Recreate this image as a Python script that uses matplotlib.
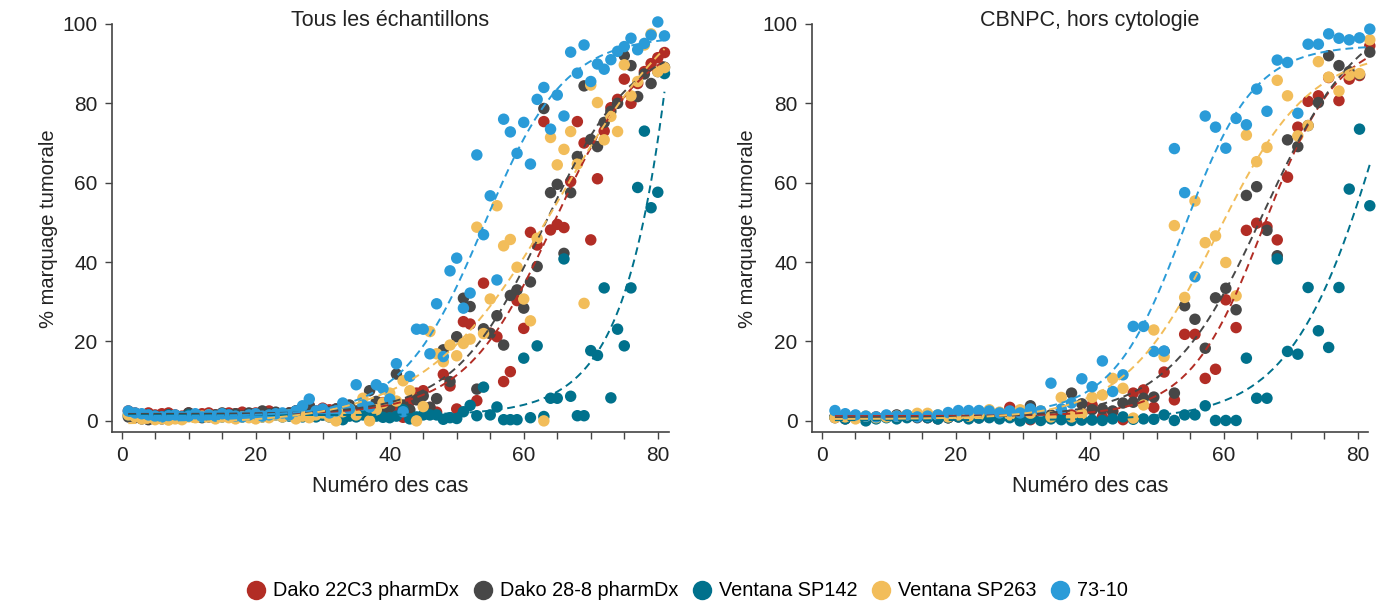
import numpy as np
import matplotlib
matplotlib.use("Agg")
import matplotlib.pyplot as plt
from matplotlib.ticker import MultipleLocator
from matplotlib.lines import Line2D

plt.rcParams['font.family'] = ['Liberation Sans', 'DejaVu Sans']

series_names = ["Dako 22C3 pharmDx", "Dako 28-8 pharmDx", "Ventana SP142", "Ventana SP263", "73-10"]
colors = ["#b22d25", "#474747", "#00718c", "#f2bd5a", "#2a9bd8"]
titles = ["Tous les échantillons", "CBNPC, hors cytologie"]

# --- panel 1 : tous les échantillons (81 cas) ---
cases_all = np.arange(1, 82)

red_all = [2.5, 2.0, 1.5, 2.0, 1.5, 1.8, 2.0, 1.5, 1.2, 2.0,
           1.5, 1.8, 2.0, 1.5, 1.2, 2.0, 1.8, 2.2, 1.5, 2.0,
           1.8, 2.5, 2.0, 1.5, 2.0, 2.5, 3.2, 3.8, 2.5, 3.2,
           2.8, 3.0, 2.5, 3.5, 2.0, 2.8, 3.0, 4.0, 4.6, 3.0,
           2.5, 0.9, 4.9, 7.0, 7.6, 3.4, 2.2, 11.7, 8.8, 3.0,
           25.0, 24.4, 5.1, 34.7, 22.1, 21.2, 9.9, 12.4, 30.3, 23.3,
           47.5, 44.3, 75.4, 48.1, 49.5, 48.7, 60.3, 75.4, 70.0, 45.6,
           61.0, 73.0, 78.9, 81.0, 86.1, 80.0, 85.0, 88.0, 90.0, 91.5, 92.8]
black_all = [1.0, 0.8, 0.5, 0.3, 1.2, 0.5, 1.5, 0.8, 1.0, 2.0,
             1.5, 0.8, 1.0, 1.5, 2.0, 1.0, 1.8, 1.2, 2.0, 1.5,
             2.5, 1.8, 2.2, 1.5, 2.0, 2.5, 3.0, 3.8, 2.0, 1.5,
             2.3, 3.0, 3.5, 4.0, 2.5, 2.8, 7.6, 4.9, 2.8, 3.5,
             11.8, 4.0, 2.8, 5.3, 6.3, 3.4, 5.6, 17.9, 9.9, 21.2,
             30.9, 28.8, 8.0, 23.2, 22.0, 26.5, 19.1, 31.6, 33.0, 28.4,
             35.0, 38.9, 78.7, 57.5, 59.6, 42.2, 57.5, 66.6, 84.4, 70.9,
             69.1, 75.2, 78.0, 80.0, 92.0, 89.5, 81.7, 87.4, 85.0, 88.0, 89.1]
teal_all = [1.5, 1.2, 1.0, 1.5, 1.2, 1.0, 1.5, 1.2, 1.0, 1.5,
            1.2, 1.0, 1.5, 1.2, 1.0, 1.5, 1.2, 1.0, 1.2, 1.5,
            1.0, 1.2, 1.5, 1.0, 1.2, 1.5, 1.0, 1.2, 1.0, 1.5,
            1.0, 0.8, 0.3, 1.2, 1.0, 1.5, 0.8, 1.2, 0.9, 0.8,
            1.2, 2.8, 0.5, 1.0, 1.5, 1.5, 1.5, 0.4, 0.8, 0.6,
            2.3, 3.9, 1.3, 8.5, 1.5, 3.5, 0.3, 0.3, 0.3, 15.8,
            0.8, 18.9, 1.1, 5.7, 5.7, 40.8, 6.2, 1.3, 1.3, 17.7,
            16.5, 33.5, 5.8, 23.1, 18.9, 33.5, 58.8, 73.0, 53.7, 57.6, 87.5]
yellow_all = [1.5, 1.0, 0.5, 0.8, 0.3, 0.5, 0.2, 0.5, 0.3, 1.0,
              0.8, 1.2, 1.5, 0.5, 1.0, 0.8, 0.5, 1.0, 0.8, 0.5,
              1.0, 0.8, 1.5, 1.0, 1.5, 0.5, 1.2, 0.8, 1.5, 2.0,
              1.0, 0.0, 2.3, 3.0, 1.5, 5.7, 0.0, 2.8, 4.5, 7.0,
              5.0, 10.1, 7.6, 0.0, 3.6, 22.5, 16.9, 14.9, 19.1, 16.4,
              19.5, 20.6, 48.8, 22.0, 30.7, 54.2, 44.1, 45.7, 38.7, 30.7,
              25.2, 46.0, 0.0, 71.4, 64.5, 68.4, 72.9, 64.7, 29.6, 84.6,
              80.2, 70.8, 76.7, 72.9, 89.7, 81.9, 85.5, 94.7, 97.5, 88.0, 89.0]
blue_all = [2.5, 2.0, 1.8, 1.5, 1.2, 1.0, 1.3, 1.5, 1.0, 1.2,
            1.8, 1.0, 1.5, 1.2, 1.8, 1.5, 1.2, 1.0, 1.5, 1.8,
            1.2, 1.5, 1.8, 2.0, 1.5, 2.5, 3.8, 5.5, 2.5, 3.0,
            2.0, 2.5, 4.5, 3.0, 9.1, 4.0, 3.5, 9.1, 8.1, 5.5,
            14.4, 2.3, 11.2, 23.1, 23.1, 16.9, 29.5, 16.2, 37.8, 41.0,
            28.4, 32.2, 67.0, 46.9, 56.7, 35.5, 76.0, 72.8, 67.4, 75.2,
            64.7, 81.0, 84.0, 73.5, 82.1, 76.8, 92.9, 87.6, 94.7, 85.5,
            89.9, 88.6, 91.0, 93.1, 94.3, 96.4, 93.5, 95.1, 97.2, 100.5, 97.0]

# --- panel 2 : CBNPC hors cytologie (53 cas, rang ramené sur 2-82) ---
cases_nsclc = np.linspace(2.0, 81.8, 53)

red_nsclc = [1.0, 1.5, 1.2, 0.8, 1.0, 1.2, 0.8, 1.0, 1.2, 0.8,
             1.0, 0.8, 1.2, 1.0, 0.8, 1.0, 1.2, 3.4, 1.0, 0.3,
             1.5, 1.0, 1.0, 1.5, 2.0, 4.0, 1.0, 2.3, 0.3, 7.0,
             7.8, 3.4, 12.3, 5.3, 21.8, 21.8, 10.7, 13.0, 30.5, 23.5,
             48.0, 49.8, 48.9, 45.6, 61.4, 74.0, 80.5, 81.9, 86.5, 80.7,
             86.1, 87.0, 94.5]
black_nsclc = [0.8, 0.5, 1.0, 0.5, 0.8, 1.2, 1.5, 1.0, 0.8, 1.0,
               0.5, 0.8, 1.0, 0.8, 1.0, 1.2, 1.0, 1.5, 2.0, 3.8,
               2.0, 1.5, 2.2, 7.0, 4.3, 2.8, 3.0, 2.5, 4.5, 4.7,
               5.7, 6.0, 17.5, 7.0, 29.0, 25.6, 18.3, 31.0, 33.4, 28.0,
               56.8, 59.0, 48.0, 41.6, 70.8, 69.1, 74.4, 80.2, 92.0, 89.5,
               88.0, 87.3, 92.9]
teal_nsclc = [1.0, 0.5, 0.8, 0.0, 0.5, 0.8, 0.5, 0.8, 1.0, 0.8,
              0.5, 0.8, 1.0, 0.5, 0.7, 0.8, 0.5, 0.8, 0.0, 0.5,
              0.1, 0.5, 0.3, 0.1, 0.2, 0.2, 0.1, 0.5, 1.0, 0.4,
              0.5, 0.4, 1.5, 0.1, 1.5, 1.5, 3.8, 0.1, 0.1, 0.1,
              15.8, 5.7, 5.7, 40.8, 17.5, 16.8, 33.6, 22.7, 18.5, 33.6,
              58.4, 73.5, 54.2]
yellow_nsclc = [0.8, 1.0, 0.5, 1.2, 0.8, 1.0, 1.2, 1.5, 1.9, 1.9,
                1.5, 1.0, 1.5, 1.2, 1.5, 2.8, 2.2, 1.5, 2.8, 1.9,
                2.5, 1.0, 5.9, 1.0, 1.8, 5.9, 6.5, 10.7, 8.2, 0.7,
                4.0, 22.9, 16.2, 49.2, 31.1, 55.4, 44.9, 46.6, 39.9, 31.5,
                72.0, 65.3, 68.9, 85.8, 81.9, 71.8, 74.4, 90.5, 86.6, 83.1,
                87.1, 87.5, 96.0]
blue_nsclc = [2.6, 1.8, 1.5, 1.2, 1.0, 1.5, 1.2, 1.5, 1.0, 1.2,
              1.5, 2.1, 2.6, 2.6, 2.6, 2.5, 2.0, 2.5, 2.0, 3.0,
              2.5, 9.5, 3.0, 4.5, 10.6, 8.6, 15.1, 7.4, 11.6, 23.8,
              23.8, 17.5, 17.6, 68.6, 57.5, 36.3, 76.8, 74.0, 68.7, 76.2,
              74.6, 83.6, 78.0, 90.9, 90.3, 77.5, 94.9, 94.9, 97.5, 96.4,
              96.0, 96.5, 98.7]

panels = [
    (cases_all, [red_all, black_all, teal_all, yellow_all, blue_all]),
    (cases_nsclc, [red_nsclc, black_nsclc, teal_nsclc, yellow_nsclc, blue_nsclc]),
]


def logistic_fit(x, y):
    # sigmoïde à 4 paramètres : recherche sur (milieu, pente), bas/amplitude par moindres carrés
    x = np.asarray(x, float)
    y = np.asarray(y, float)
    M, K = np.meshgrid(np.arange(35, 120, 0.5), np.arange(0.03, 0.40, 0.005))
    M, K = M.ravel(), K.ravel()
    S = 1.0 / (1.0 + np.exp(-K[:, None] * (x[None, :] - M[:, None])))
    sm = S.mean(axis=1, keepdims=True)
    ym = y.mean()
    A = ((S - sm) * (y - ym)).sum(axis=1) / ((S - sm) ** 2).sum(axis=1)
    b = ym - A * sm[:, 0]
    sse = ((y[None, :] - b[:, None] - A[:, None] * S) ** 2).sum(axis=1)
    i = np.argmin(sse)
    m, k, a, c = M[i], K[i], A[i], b[i]
    return lambda t: c + a / (1.0 + np.exp(-k * (t - m)))


fig = plt.figure(figsize=(13.91, 6.03), dpi=100)
ax_left = fig.add_axes([0.0802, 0.2836, 0.4004, 0.703])
ax_right = fig.add_axes([0.5834, 0.2836, 0.4004, 0.703])

ymin, ymax = -2.8, 104
axis_col = "#444444"
txt_col = "#222222"

for ax, (x, data), title in zip([ax_left, ax_right], panels, titles):
    for vals, c in zip(data, colors):
        ax.scatter(x, vals, s=68, color=c, edgecolors='none', zorder=3, clip_on=False)
    for vals, c in zip(data, colors):
        f = logistic_fit(x, vals)
        xf = np.linspace(x.min(), x.max(), 200)
        ax.plot(xf, f(xf), color=c, lw=1.4,
                linestyle=(0, (4, 2.5)), zorder=4, clip_on=False)

    ax.set_xlim(-1.5, 81.6)
    ax.set_ylim(ymin, ymax)
    ax.xaxis.set_major_locator(MultipleLocator(20))
    ax.xaxis.set_minor_locator(MultipleLocator(5))
    ax.set_yticks([0, 20, 40, 60, 80, 100])
    ax.tick_params(which='both', direction='out', length=5, width=1,
                   color=axis_col, labelsize=15, pad=5, labelcolor=txt_col)
    for side in ['top', 'right']:
        ax.spines[side].set_visible(False)
    for side in ['left', 'bottom']:
        ax.spines[side].set_color(axis_col)
        ax.spines[side].set_linewidth(1.2)
    ax.spines['left'].set_bounds(ymin, 100)

    ax.set_xlabel("Numéro des cas", fontsize=15.5, labelpad=8, color=txt_col)
    ax.set_ylabel("% marquage tumorale", fontsize=14.5, color=txt_col)
    ax.yaxis.set_label_coords(-0.097, 0.48)
    ax.text(0.5, 0.97, title, transform=ax.transAxes, ha='center', va='center',
            fontsize=15.5, color=txt_col)

handles = [Line2D([], [], marker='o', linestyle='none', markersize=14,
                  markerfacecolor=c, markeredgecolor='none') for c in colors]
fig.legend(handles, series_names, loc='center', bbox_to_anchor=(0.494, 1 - 591 / 603),
           ncol=5, frameon=False, fontsize=14.3, handlelength=1.0,
           handletextpad=0.35, columnspacing=0.7)

fig.savefig("out.png", dpi=100)
